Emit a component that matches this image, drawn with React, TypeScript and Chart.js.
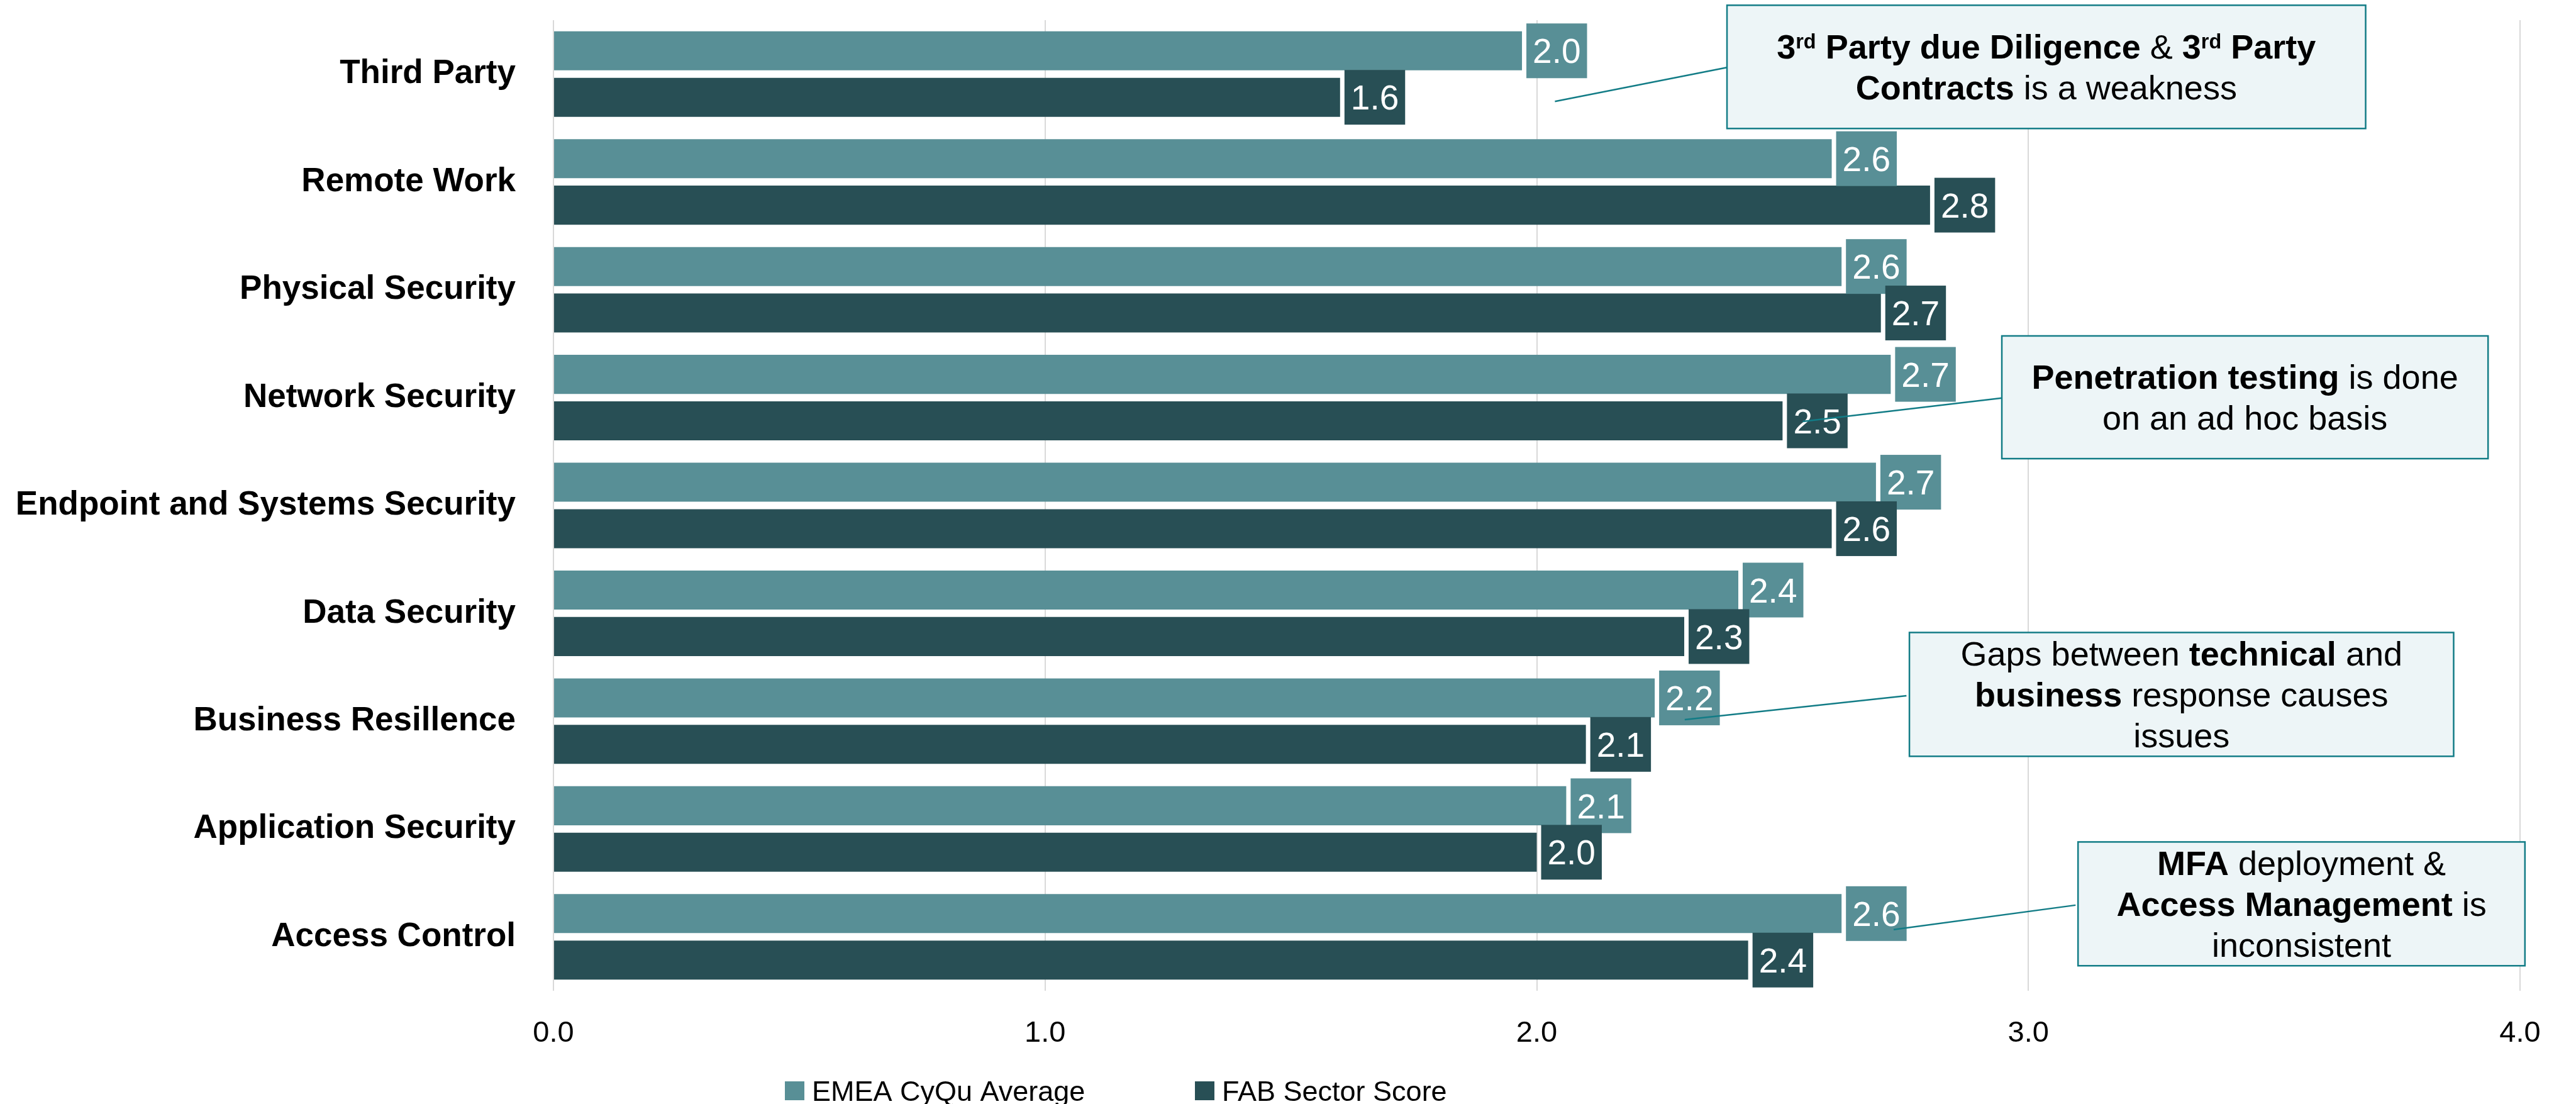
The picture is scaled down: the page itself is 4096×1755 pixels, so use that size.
import React, { useEffect, useRef } from 'react';
import { Chart, registerables } from 'chart.js';

Chart.register(...registerables);

// ---------- data ----------
const categories = [
  'Third Party',
  'Remote Work',
  'Physical Security',
  'Network Security',
  'Endpoint and Systems Security',
  'Data Security',
  'Business Resillence',
  'Application Security',
  'Access Control',
];
const seriesNames = ['EMEA CyQu Average', 'FAB Sector Score'];
const emeaValues = [1.97, 2.6, 2.62, 2.72, 2.69, 2.41, 2.24, 2.06, 2.62];
const fabValues = [1.6, 2.8, 2.7, 2.5, 2.6, 2.3, 2.1, 2.0, 2.43];
const xTickValues = [0, 1, 2, 3, 4];

// annotation texts: [text, bold, superscript]
type Seg = [string, boolean, boolean?];
const note1: Seg[][] = [
  [['3', true], ['rd', true, true], [' Party due Diligence', true], [' & ', false], ['3', true], ['rd', true, true], [' Party', true]],
  [['Contracts', true], [' is a weakness', false]],
];
const note2: Seg[][] = [
  [['Penetration testing', true], [' is done', false]],
  [['on an ad hoc basis', false]],
];
const note3: Seg[][] = [
  [['Gaps between ', false], ['technical', true], [' and', false]],
  [['business', true], [' response causes', false]],
  [['issues', false]],
];
const note4: Seg[][] = [
  [['MFA', true], [' deployment &', false]],
  [['Access Management', true], [' is', false]],
  [['inconsistent', false]],
];

// annotation placement in data coordinates: box [x1, yIdx1, x2, yIdx2], from (box edge), to (bar)
const notes = [
  { text: note1, box: [2.387, -0.638, 3.686, 0.505], from: [2.387, -0.061], to: [2.037, 0.254] },
  { text: note2, box: [2.946, 2.428, 3.935, 3.566], from: [2.946, 3.004], to: [2.541, 3.221] },
  { text: note3, box: [2.758, 5.178, 3.865, 6.326], from: [2.752, 5.764], to: [2.301, 5.986] },
  { text: note4, box: [3.101, 7.12, 4.01, 8.268], from: [3.096, 7.706], to: [2.726, 7.933] },
];

// ---------- styles ----------
const FONT = '"Liberation Sans", Arial, Helvetica, sans-serif';
const EMEA_COLOR = '#588F96';
const FAB_COLOR = '#284F55';
const NOTE_FILL = '#EDF5F7';
const NOTE_STROKE = '#127C86';

const valueLabelPlugin = {
  id: 'valueLabels',
  afterDatasetsDraw(chart: any) {
    const ctx = chart.ctx as CanvasRenderingContext2D;
    const size = 55;
    const pad = 10;
    const gap = 7;
    const h = 87;
    ctx.save();
    ctx.font = `${size}px ${FONT}`;
    ctx.textAlign = 'center';
    ctx.textBaseline = 'alphabetic';
    const n = chart.data.labels.length;
    for (let i = 0; i < n; i++) {
      chart.data.datasets.forEach((ds: any, di: number) => {
        const el = chart.getDatasetMeta(di).data[i];
        const txt = Number(ds.data[i]).toFixed(1);
        const w = ctx.measureText(txt).width + pad * 2;
        const x = el.x + gap;
        ctx.fillStyle = ds.backgroundColor;
        ctx.fillRect(x, el.y - h / 2, w, h);
        ctx.fillStyle = '#ffffff';
        ctx.fillText(txt, x + w / 2, el.y + size * 0.358);
      });
    }
    ctx.restore();
  },
};

function drawRichLine(ctx: CanvasRenderingContext2D, segs: Seg[], cx: number, baseline: number, size: number) {
  const fontFor = (s: Seg) => `${s[1] ? 'bold ' : ''}${s[2] ? size * 0.6 : size}px ${FONT}`;
  let total = 0;
  const widths = segs.map((s) => {
    ctx.font = fontFor(s);
    const w = ctx.measureText(s[0]).width;
    total += w;
    return w;
  });
  let x = cx - total / 2;
  segs.forEach((s, i) => {
    ctx.font = fontFor(s);
    ctx.fillText(s[0], x, s[2] ? baseline - size * 0.29 : baseline);
    x += widths[i];
  });
}

const notesPlugin = {
  id: 'notes',
  afterDraw(chart: any) {
    const ctx = chart.ctx as CanvasRenderingContext2D;
    const xs = chart.scales.x;
    const ys = chart.scales.y;
    const px = (v: number) => xs.getPixelForValue(v);
    const py = (v: number) => ys.getPixelForValue(v);
    const size = 54;
    const lh = 65;
    ctx.save();
    notes.forEach((nt) => {
      // connector
      ctx.strokeStyle = NOTE_STROKE;
      ctx.lineWidth = 2.5;
      ctx.beginPath();
      ctx.moveTo(px(nt.to[0]), py(nt.to[1]));
      ctx.lineTo(px(nt.from[0]), py(nt.from[1]));
      ctx.stroke();
      // box
      const x1 = px(nt.box[0]);
      const y1 = py(nt.box[1]);
      const x2 = px(nt.box[2]);
      const y2 = py(nt.box[3]);
      ctx.fillStyle = NOTE_FILL;
      ctx.fillRect(x1, y1, x2 - x1, y2 - y1);
      ctx.strokeStyle = NOTE_STROKE;
      ctx.lineWidth = 2.5;
      ctx.strokeRect(x1, y1, x2 - x1, y2 - y1);
      // text
      const cx = (x1 + x2) / 2;
      const cy = (y1 + y2) / 2;
      const nLines = nt.text.length;
      ctx.fillStyle = '#000000';
      ctx.textAlign = 'left';
      ctx.textBaseline = 'alphabetic';
      nt.text.forEach((line, i) => {
        const base = cy + (i - (nLines - 1) / 2) * lh + size * 0.358;
        drawRichLine(ctx, line, cx, base, size);
      });
    });
    ctx.restore();
  },
};

const legendPlugin = {
  id: 'customLegend',
  afterDraw(chart: any) {
    const ctx = chart.ctx as CanvasRenderingContext2D;
    const size = 45;
    const items = [
      { x: 1248, color: EMEA_COLOR, label: seriesNames[0] },
      { x: 1900, color: FAB_COLOR, label: seriesNames[1] },
    ];
    const y = 1719;
    ctx.save();
    ctx.font = `${size}px ${FONT}`;
    ctx.textAlign = 'left';
    ctx.textBaseline = 'alphabetic';
    items.forEach((it) => {
      ctx.fillStyle = it.color;
      ctx.fillRect(it.x, y, 31, 30);
      ctx.fillStyle = '#000000';
      ctx.fillText(it.label, it.x + 43, y + 15 + size * 0.358);
    });
    ctx.restore();
  },
};

export default function App() {
  const ref = useRef<HTMLCanvasElement | null>(null);

  useEffect(() => {
    document.body.style.margin = '0';
    const canvas = ref.current;
    if (!canvas) return;
    const chart = new Chart(canvas, {
      type: 'bar',
      data: {
        labels: categories,
        datasets: [
          { label: seriesNames[0], data: emeaValues, backgroundColor: EMEA_COLOR, borderWidth: 0 },
          { label: seriesNames[1], data: fabValues, backgroundColor: FAB_COLOR, borderWidth: 0 },
        ],
      },
      options: {
        indexAxis: 'y',
        responsive: false,
        animation: false,
        devicePixelRatio: 1,
        datasets: { bar: { categoryPercentage: 0.862, barPercentage: 0.84 } },
        layout: { padding: { left: 0, right: 89, top: 32, bottom: 0 } },
        plugins: {
          legend: { display: false },
          tooltip: { enabled: false },
        },
        scales: {
          x: {
            type: 'linear',
            min: xTickValues[0],
            max: xTickValues[xTickValues.length - 1],
            afterBuildTicks: (s: any) => {
              s.ticks = xTickValues.map((v) => ({ value: v }));
            },
            ticks: {
              callback: (v: any) => Number(v).toFixed(1),
              font: { size: 47, family: FONT },
              color: '#000000',
              padding: 40,
              maxRotation: 0,
            },
            grid: { color: '#D9D9D9', lineWidth: 2, drawTicks: false },
            border: { display: false },
            afterFit: (s: any) => {
              s.height = 180;
              s.paddingLeft = 0;
              s.paddingRight = 0;
            },
          },
          y: {
            type: 'category',
            ticks: {
              font: { size: 53, weight: 'bold', family: FONT },
              color: '#000000',
              padding: 60,
            },
            grid: { display: false, drawTicks: false },
            border: { display: false },
            afterFit: (s: any) => {
              s.width = 880;
              s.paddingTop = 0;
              s.paddingBottom = 0;
            },
          },
        },
      } as any,
      plugins: [valueLabelPlugin, notesPlugin, legendPlugin],
    });
    return () => chart.destroy();
  }, []);

  return (
    <div style={{ position: 'fixed', left: 0, top: 0, width: 4096, height: 1755, background: '#ffffff' }}>
      <canvas ref={ref} width={4096} height={1755} style={{ display: 'block' }} />
    </div>
  );
}
